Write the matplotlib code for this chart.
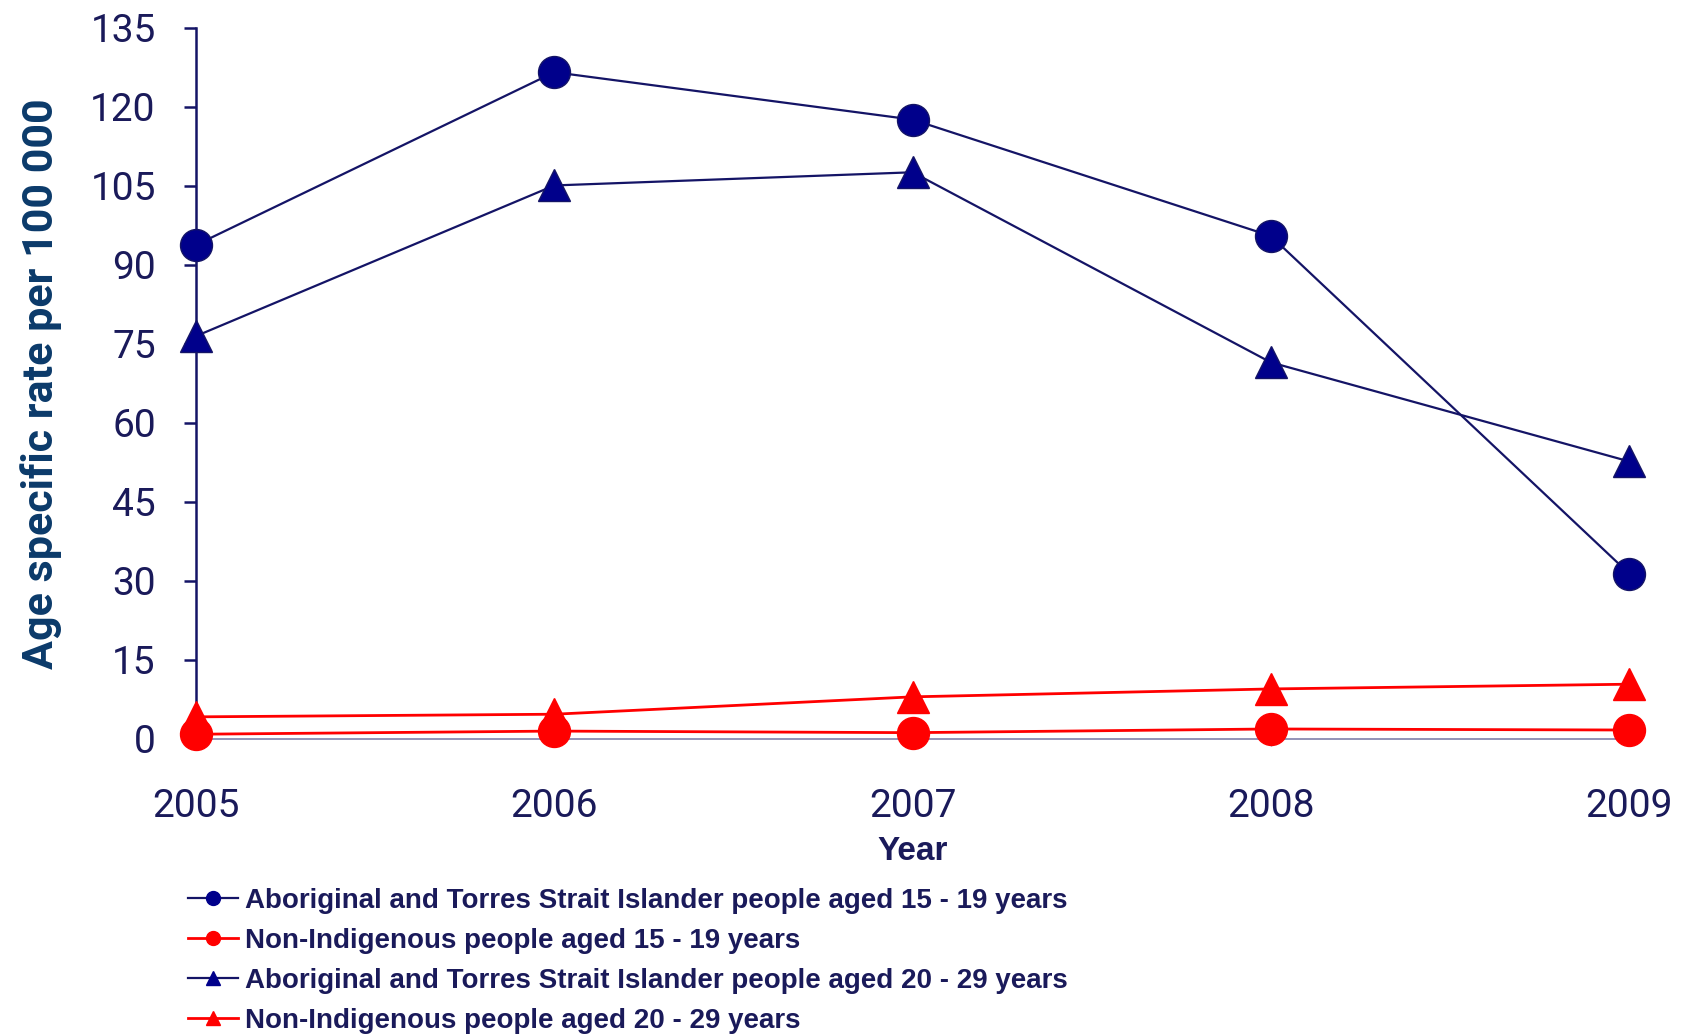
import matplotlib.pyplot as plt
from matplotlib import font_manager

years = [2005, 2006, 2007, 2008, 2009]
yticks = [0, 15, 30, 45, 60, 75, 90, 105, 120, 135]

# rates per 100 000
atsi_15_19 = [93.8, 126.6, 117.6, 95.5, 31.4]
non_ind_15_19 = [0.9, 1.5, 1.2, 1.9, 1.7]
atsi_20_29 = [76.5, 105.1, 107.6, 71.5, 52.7]
non_ind_20_29 = [4.2, 4.7, 8.0, 9.5, 10.4]

labels = [
    'Aboriginal and Torres Strait Islander people aged 15 - 19 years',
    'Non-Indigenous people aged 15 - 19 years',
    'Aboriginal and Torres Strait Islander people aged 20 - 29 years',
    'Non-Indigenous people aged 20 - 29 years',
]

navy = '#00008B'
navy_line = '#141466'
red = '#FF0000'
tick_col = '#1a1a5a'

installed = {f.name for f in font_manager.fontManager.ttflist}
narrow = 'Liberation Sans Narrow' if 'Liberation Sans Narrow' in installed else 'Liberation Sans'

fig = plt.figure(figsize=(16.9, 10.36), dpi=100)
ax = fig.add_axes([0.116, 0.2867, 0.848, 0.6863])

series = [
    (atsi_15_19, 'o', navy, navy_line, 1.6, 3),
    (non_ind_15_19, 'o', red, red, 2.0, 5),
    (atsi_20_29, '^', navy, navy_line, 1.6, 3),
    (non_ind_20_29, '^', red, red, 2.0, 4),
]

handles = []
for (vals, mk, mc, lc, lw, z), lab in zip(series, labels):
    ax.plot(years, vals, color=lc, lw=lw, zorder=z, clip_on=False)
    ax.plot(years, vals, ls='none', marker=mk, ms=23, color=mc,
            mec=lc if mc == navy else mc, mew=1.0, zorder=z + 0.5, clip_on=False)
    h, = ax.plot([], [], color=lc, lw=lw, marker=mk, ms=10, mfc=mc, mec=mc)
    handles.append(h)

ax.set_xlim(2005, 2009)
ax.set_ylim(0, 135)
ax.set_xticks(years)
ax.set_yticks(yticks)

for s in ['top', 'right']:
    ax.spines[s].set_visible(False)
ax.spines['left'].set_color(navy_line)
ax.spines['left'].set_linewidth(1.8)
ax.spines['bottom'].set_color('#8080aa')
ax.spines['bottom'].set_linewidth(1.2)

ax.tick_params(axis='y', direction='out', length=9, width=1.8, color=navy_line,
               pad=20, labelsize=28, labelcolor=tick_col)
ax.tick_params(axis='x', direction='out', length=5, width=1.0, color='#8080aa',
               pad=30, labelsize=28, labelcolor=tick_col)
for t in ax.get_xticklabels() + ax.get_yticklabels():
    t.set_fontfamily('Roboto')

ax.set_ylabel('Age specific rate per 100 000', fontsize=31, fontweight='bold',
              color='#0b3a6a', family='Roboto', labelpad=20)
ax.set_xlabel('Year', fontsize=24, fontweight='bold', color=tick_col,
              family=narrow, labelpad=8)

leg = fig.legend(handles=handles, labels=labels, loc='upper left',
                 bbox_to_anchor=(0.111, 0.143), frameon=False,
                 prop={'family': narrow, 'weight': 'bold', 'size': 20},
                 handlelength=1.8, handletextpad=0.25, labelspacing=0.5,
                 borderpad=0, borderaxespad=0)
for t in leg.get_texts():
    t.set_color(tick_col)

fig.savefig('out.png', dpi=100)
